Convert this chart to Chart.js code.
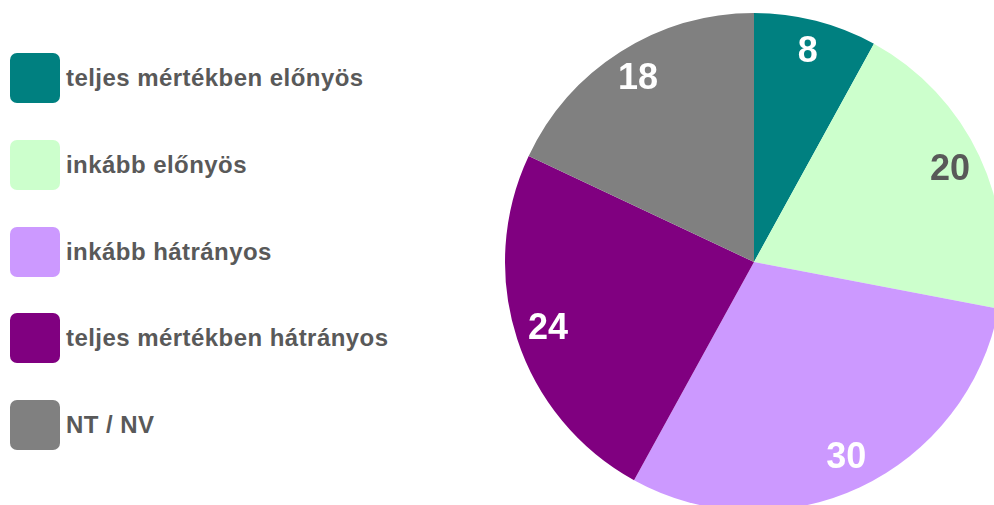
<!DOCTYPE html>
<html>
<head>
<meta charset="utf-8">
<script src="https://cdn.jsdelivr.net/npm/chart.js@4"></script>
<style>
  html, body { margin: 0; padding: 0; background: #fff; overflow: hidden; width: 994px; height: 505px; }
  #pieBox { position: absolute; left: 494px; top: 2px; width: 520px; height: 520px; }
  #legend { position: absolute; left: 10px; top: 53px; font-family: "Liberation Sans", Arial, sans-serif; }
  .item { display: flex; align-items: center; height: 50px; margin-bottom: 36.8px; }
  .sw { width: 50px; height: 50px; border-radius: 7px; margin-right: 6px; flex: none; }
  .lbl { font-weight: bold; font-size: 24px; letter-spacing: 0.45px; color: #595959; white-space: nowrap; }
</style>
</head>
<body>
<div id="legend"></div>
<div id="pieBox"><canvas id="pie"></canvas></div>
<script>
const categories = ["teljes mértékben előnyös", "inkább előnyös", "inkább hátrányos", "teljes mértékben hátrányos", "NT / NV"];
const values = [8, 20, 30, 24, 18];
const colors = ["#008080", "#ccffcc", "#cc99ff", "#800080", "#808080"];
const labelColors = ["#ffffff", "#595959", "#ffffff", "#ffffff", "#ffffff"];

const legendEl = document.getElementById("legend");
categories.forEach((c, i) => {
  const d = document.createElement("div");
  d.className = "item";
  d.innerHTML = '<div class="sw" style="background:' + colors[i] + '"></div><span class="lbl">' + c + '</span>';
  legendEl.appendChild(d);
});

const sliceLabels = {
  id: "sliceLabels",
  afterDatasetsDraw(chart) {
    const ctx = chart.ctx;
    const meta = chart.getDatasetMeta(0);
    ctx.save();
    ctx.font = "bold 36px 'Liberation Sans', Arial, sans-serif";
    ctx.textAlign = "center";
    ctx.textBaseline = "middle";
    meta.data.forEach((arc, i) => {
      const p = arc.getProps(["x", "y", "startAngle", "endAngle", "outerRadius"], true);
      const a = (p.startAngle + p.endAngle) / 2;
      const r = p.outerRadius * 0.87;
      ctx.fillStyle = labelColors[i];
      ctx.fillText(String(chart.data.datasets[0].data[i]), p.x + Math.cos(a) * r, p.y + Math.sin(a) * r);
    });
    ctx.restore();
  }
};

new Chart(document.getElementById("pie"), {
  type: "pie",
  data: {
    labels: categories,
    datasets: [{
      data: values,
      backgroundColor: colors,
      borderWidth: 0
    }]
  },
  options: {
    responsive: true,
    maintainAspectRatio: false,
    animation: false,
    layout: { padding: 11 },
    plugins: {
      legend: { display: false },
      tooltip: { enabled: false }
    }
  },
  plugins: [sliceLabels]
});
</script>
</body>
</html>
